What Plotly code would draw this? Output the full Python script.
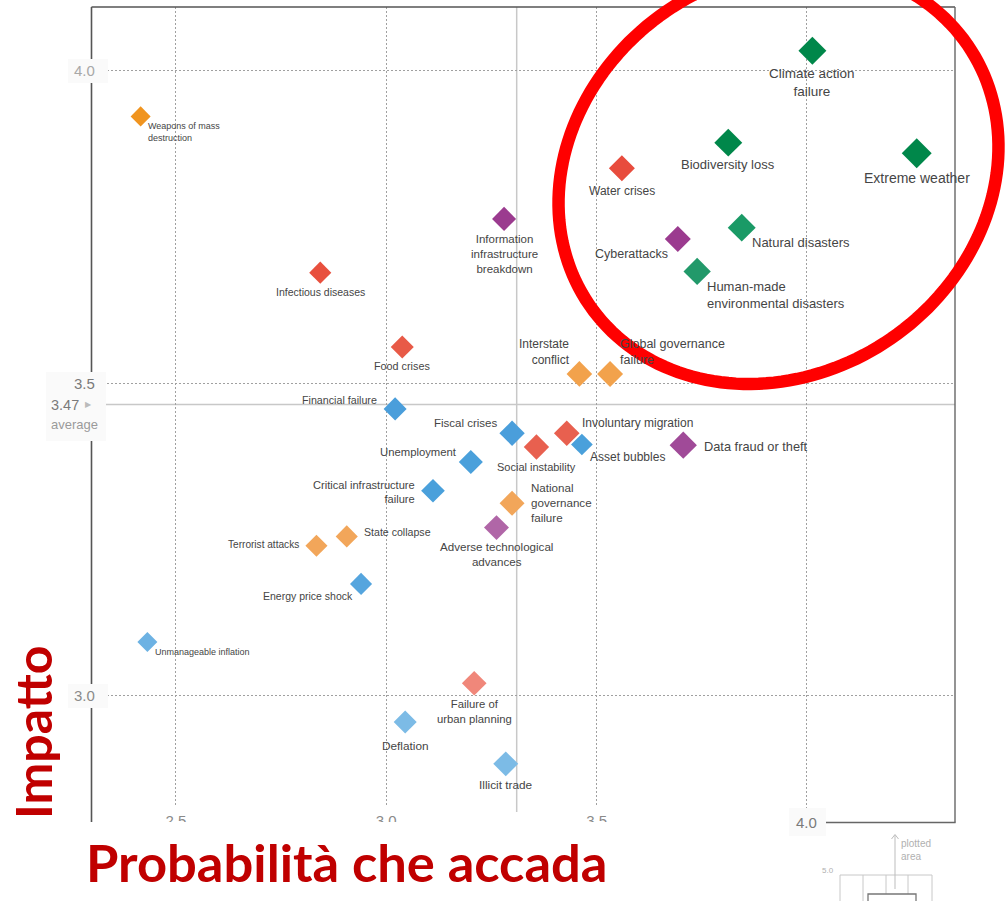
import numpy as np
import plotly.graph_objects as go

# ---------------- data ----------------
risks = [
    "Weapons of mass destruction", "Infectious diseases", "Food crises", "Financial failure",
    "Information infrastructure breakdown", "Water crises", "Climate action failure",
    "Biodiversity loss", "Extreme weather", "Cyberattacks", "Natural disasters",
    "Human-made environmental disasters", "Interstate conflict", "Global governance failure",
    "Fiscal crises", "Social instability", "Involuntary migration", "Asset bubbles",
    "Data fraud or theft", "Unemployment", "Critical infrastructure failure",
    "National governance failure", "Adverse technological advances", "State collapse",
    "Terrorist attacks", "Energy price shock", "Unmanageable inflation",
    "Failure of urban planning", "Deflation", "Illicit trade",
]
label_text = [
    "Weapons of mass<br>destruction", "Infectious diseases", "Food crises", "Financial failure",
    "Information<br>infrastructure<br>breakdown", "Water crises", "Climate action<br>failure",
    "Biodiversity loss", "Extreme weather", "Cyberattacks", "Natural disasters",
    "Human-made<br>environmental disasters", "Interstate<br>conflict", "Global governance<br>failure",
    "Fiscal crises", "Social instability", "Involuntary migration", "Asset bubbles",
    "Data fraud or theft", "Unemployment", "Critical infrastructure<br>failure",
    "National<br>governance<br>failure", "Adverse technological<br>advances", "State collapse",
    "Terrorist attacks", "Energy price shock", "Unmanageable inflation",
    "Failure of<br>urban planning", "Deflation", "Illicit trade",
]
likelihood = [2.416, 2.843, 3.038, 3.021, 3.280, 3.560, 4.013, 3.813, 4.261, 3.693,
              3.845, 3.739, 3.459, 3.532, 3.299, 3.357, 3.429, 3.465, 3.706, 3.201,
              3.111, 3.299, 3.262, 2.906, 2.834, 2.940, 2.432, 3.209, 3.045, 3.284]
impact = [3.927, 3.677, 3.558, 3.459, 3.763, 3.844, 4.032, 3.885, 3.868, 3.731,
          3.749, 3.679, 3.515, 3.515, 3.420, 3.398, 3.420, 3.402, 3.401, 3.374,
          3.328, 3.308, 3.269, 3.255, 3.240, 3.179, 3.086, 3.020, 2.958, 2.891]
category = ["Geopolitical", "Societal", "Societal", "Economic", "Technological",
            "Societal", "Environmental", "Environmental", "Environmental", "Technological",
            "Environmental", "Environmental", "Geopolitical", "Geopolitical", "Economic",
            "Societal", "Societal", "Economic", "Technological", "Economic",
            "Economic", "Geopolitical", "Technological", "Geopolitical", "Geopolitical",
            "Economic", "Economic", "Societal", "Economic", "Economic"]
x_ticks = [2.5, 3.0, 3.5, 4.0]
y_ticks = [3.0, 3.5, 4.0]
avg_likelihood = 3.31
avg_impact = 3.466
x_range = [2.298, 4.352]
y_range = [2.798, 4.102]

# ---------------- styles ----------------
W, H = 1006, 901
ML, MR, MT, MB = 91, 51, 7, 79
PW, PH = W - ML - MR, H - MT - MB
FONT = "Liberation Sans, Arial, sans-serif"
LABEL_COLOR = "#454545"


def pxx(p):
    return (p - ML) / PW


def pxy(p):
    return 1 - (p - MT) / PH


marker_colors = [
    "#f0941f", "#e8503e", "#e85a47", "#4a9edb", "#9b3b8f", "#e84c3d", "#00874a",
    "#00874a", "#00874a", "#9b3b8f", "#1a9a66", "#22996a", "#f2a24c", "#f2a24c",
    "#4a9edb", "#e8604f", "#e8604f", "#4aa0db", "#a04a98", "#4aa0db",
    "#4aa0db", "#f2a65a", "#b066a7", "#f2a65a", "#f2a65a", "#55a5de", "#6db2e3",
    "#f0877a", "#7cbbe6", "#7cbbe6",
]
marker_sizes = [15.4, 17, 17.7, 17.7, 18.5, 20, 21.5, 21.5, 23, 20, 21.5, 21, 19.7, 20,
                19.5, 19.5, 19.7, 16.7, 21, 18.5, 18.2, 19.2, 19.2, 17, 17, 17, 15.4,
                19, 17.7, 19.2]
# (horizontal anchor, x offset px, y offset of text centre px (down +), font size)
label_style = [
    ("left", 7.3, 15.3, 9), ("center", 0, 19.3, 10.5), ("center", 0, 18.7, 10.8),
    ("right", -18, -9, 10.7), ("center", 0, 34.7, 11.5), ("center", 0, 22.4, 12),
    ("center", 0, 31.9, 13.5), ("center", 0, 22.3, 13), ("center", 0, 24.3, 14),
    ("right", -9.7, 14.7, 12.5), ("left", 10.6, 15.3, 13), ("left", 10, 23.3, 13),
    ("right", -9.3, -22.3, 12), ("left", 10, -22.3, 12.5), ("right", -14, -10.6, 11.5),
    ("center", 0, 20, 11), ("left", 15, -10.6, 12), ("left", 8, 12, 12),
    ("left", 21, 1.4, 12.8), ("right", -13.7, -10.3, 11.3), ("right", -18.3, 1.5, 11.1),
    ("left", 18.7, -0.8, 11.6), ("center", 0, 26.6, 11.6), ("left", 17.7, -4, 10.6),
    ("right", -17, -1, 10.1), ("right", -8.3, 12.3, 10.5), ("left", 7.7, 10.3, 9),
    ("center", 0, 28.2, 11.3), ("center", 0, 24.3, 11.8), ("center", 0, 21, 11.8),
]

fig = go.Figure()

fig.add_trace(go.Scatter(
    x=likelihood, y=impact, mode="markers",
    marker=dict(symbol="diamond", size=marker_sizes, color=marker_colors,
                opacity=1, line=dict(width=0)),
    text=risks, customdata=category,
    hovertemplate="%{text}<br>%{customdata}<br>Likelihood %{x}<br>Impact %{y}<extra></extra>",
    showlegend=False,
))

# cut-off x tick labels (clipped by plot area like in the reference)
fig.add_trace(go.Scatter(
    x=x_ticks[:3], y=[y_range[0]] * 3, mode="text",
    text=[f"{v:.1f}" for v in x_ticks[:3]], textposition="middle center",
    textfont=dict(family=FONT, size=15, color="#8a8a8a"),
    cliponaxis=True, hoverinfo="skip", showlegend=False,
))

shapes = []
# average lines
shapes.append(dict(type="line", xref="x", yref="paper", x0=avg_likelihood, x1=avg_likelihood,
                   y0=pxy(812), y1=1, line=dict(color="#c8c8c8", width=1.5), layer="below"))
shapes.append(dict(type="line", xref="paper", yref="y", x0=0, x1=1, y0=avg_impact, y1=avg_impact,
                   line=dict(color="#c8c8c8", width=1.5), layer="below"))
# boxes hiding gridline ends at cut x ticks
for v in x_ticks[:3]:
    shapes.append(dict(type="rect", xref="x", yref="y", x0=v - 0.04, x1=v + 0.04,
                       y0=y_range[0], y1=y_range[0] + 17 / 624.7,
                       fillcolor="white", line=dict(width=0), layer="between"))
# frame
frame_col = "#555555"
shapes.append(dict(type="line", xref="paper", yref="paper", x0=pxx(91.5), x1=pxx(91.5),
                   y0=pxy(822), y1=pxy(7), line=dict(color=frame_col, width=1.6), layer="above"))
shapes.append(dict(type="line", xref="paper", yref="paper", x0=pxx(91.5), x1=pxx(955),
                   y0=pxy(7), y1=pxy(7), line=dict(color=frame_col, width=1.4), layer="above"))
shapes.append(dict(type="line", xref="paper", yref="paper", x0=pxx(955), x1=pxx(955),
                   y0=pxy(7), y1=pxy(822.5), line=dict(color="#666666", width=1.4), layer="above"))
shapes.append(dict(type="line", xref="paper", yref="paper", x0=pxx(826), x1=pxx(955.6),
                   y0=pxy(822.5), y1=pxy(822.5), line=dict(color="#666666", width=1.4), layer="above"))
# tick label boxes
box_fill = "#fafafa"
for (x0, x1, y0, y1) in [(68, 108, 59, 83), (46, 106, 372, 441), (68, 108, 684, 708), (789, 826, 808, 836)]:
    shapes.append(dict(type="rect", xref="paper", yref="paper", x0=pxx(x0), x1=pxx(x1),
                       y0=pxy(y1), y1=pxy(y0), fillcolor=box_fill, line=dict(width=0), layer="above"))

# red ellipse (hand-drawn highlight)
cx, cy, A, B, phi = 778.5, 175.0, 229.5, 198.5, np.radians(-34.6)
t = np.linspace(0, 2 * np.pi, 181)
ex = cx + A * np.cos(t) * np.cos(phi) - B * np.sin(t) * np.sin(phi)
ey = cy + A * np.cos(t) * np.sin(phi) + B * np.sin(t) * np.cos(phi)
path = "M " + " L ".join(f"{pxx(a):.5f},{pxy(b):.5f}" for a, b in zip(ex, ey)) + " Z"
shapes.append(dict(type="path", xref="paper", yref="paper", path=path,
                   line=dict(color="#ff0000", width=12.5), layer="above"))

# inset "plotted area" sketch
inset_col = "#c8c8c8"
shapes.append(dict(type="rect", xref="paper", yref="paper", x0=pxx(840), x1=pxx(932),
                   y0=pxy(910), y1=pxy(875), line=dict(color=inset_col, width=1), layer="above"))
for xv, y_top in [(863, 875), (886, 875), (908, 875)]:
    shapes.append(dict(type="line", xref="paper", yref="paper", x0=pxx(xv), x1=pxx(xv),
                       y0=pxy(910), y1=pxy(y_top), line=dict(color=inset_col, width=1), layer="above"))
shapes.append(dict(type="rect", xref="paper", yref="paper", x0=pxx(868), x1=pxx(916),
                   y0=pxy(910), y1=pxy(894), fillcolor="white",
                   line=dict(color="#777777", width=1.3), layer="above"))
shapes.append(dict(type="line", xref="paper", yref="paper", x0=pxx(895), x1=pxx(895),
                   y0=pxy(889), y1=pxy(835), line=dict(color="#bdbdbd", width=1), layer="above"))
shapes.append(dict(type="path", xref="paper", yref="paper",
                   path=f"M {pxx(891.5)},{pxy(839)} L {pxx(895)},{pxy(834.5)} L {pxx(898.5)},{pxy(839)}",
                   line=dict(color="#bdbdbd", width=1), layer="above"))

annotations = []
# data labels
for lab, xv, yv, (ha, dx, dy, fs) in zip(label_text, likelihood, impact, label_style):
    annotations.append(dict(x=xv, y=yv, xref="x", yref="y", text=lab, showarrow=False,
                            xanchor=ha, yanchor="middle", xshift=dx, yshift=-dy, align=ha,
                            borderpad=0, borderwidth=0,
                            font=dict(family=FONT, size=fs, color=LABEL_COLOR)))

# y tick labels
ytick_colors = {3.0: "#8a8a8a", 3.5: "#7a7a7a", 4.0: "#a8a8a8"}
for v in y_ticks:
    annotations.append(dict(x=pxx(84), y=v, xref="paper", yref="y", text=f"{v:.1f}",
                            showarrow=False, xanchor="center", yanchor="middle",
                            font=dict(family=FONT, size=15, color=ytick_colors[v])))
annotations.append(dict(x=pxx(49), y=avg_impact, xref="paper", yref="y", text=f"{avg_impact:.2f}",
                        showarrow=False, xanchor="left", yanchor="middle",
                        font=dict(family=FONT, size=14.5, color="#7a7a7a")))
annotations.append(dict(x=pxx(88), y=avg_impact, xref="paper", yref="y", text="▶",
                        showarrow=False, xanchor="center", yanchor="middle",
                        font=dict(family="DejaVu Sans", size=8, color="#bbbbbb")))
annotations.append(dict(x=pxx(49), y=pxy(424), xref="paper", yref="paper", text="average",
                        showarrow=False, xanchor="left", yanchor="middle",
                        font=dict(family=FONT, size=13, color="#9a9a9a")))
# x tick label 4.0
annotations.append(dict(x=x_ticks[3], y=pxy(822), xref="x", yref="paper", text=f"{x_ticks[3]:.1f}",
                        showarrow=False, xanchor="center", yanchor="middle",
                        font=dict(family=FONT, size=15, color="#7a7a7a")))
# inset texts
annotations.append(dict(x=pxx(899), y=pxy(850), xref="paper", yref="paper", text="plotted<br>area",
                        showarrow=False, xanchor="left", yanchor="middle", align="left",
                        font=dict(family=FONT, size=10, color="#b0b0b0")))
annotations.append(dict(x=pxx(828), y=pxy(870), xref="paper", yref="paper", text="5.0",
                        showarrow=False, xanchor="center", yanchor="middle",
                        font=dict(family=FONT, size=8, color="#b0b0b0")))
# slide axis titles
annotations.append(dict(x=pxx(347), y=pxy(861), xref="paper", yref="paper",
                        text="<b>Probabilità che accada</b>", showarrow=False,
                        xanchor="center", yanchor="middle",
                        font=dict(family="Lato, Open Sans, sans-serif", size=52.5, color="#c00000")))
annotations.append(dict(x=pxx(33), y=pxy(732), xref="paper", yref="paper",
                        text="<b>Impatto</b>", showarrow=False, textangle=-90,
                        xanchor="center", yanchor="middle",
                        font=dict(family="Lato, Open Sans, sans-serif", size=50, color="#c00000")))

fig.update_layout(
    width=W, height=H,
    margin=dict(l=ML, r=MR, t=MT, b=MB, pad=0),
    paper_bgcolor="white", plot_bgcolor="white",
    xaxis=dict(range=x_range, tickvals=x_ticks, showticklabels=False, showgrid=True,
               gridcolor="#a0a0a0", griddash="2px,2px", gridwidth=1, zeroline=False,
               showline=False, ticks=""),
    yaxis=dict(range=y_range, tickvals=y_ticks, showticklabels=False, showgrid=True,
               gridcolor="#a0a0a0", griddash="2px,2px", gridwidth=1, zeroline=False,
               showline=False, ticks=""),
    shapes=shapes, annotations=annotations,
    showlegend=False,
)

fig.write_html("out.html", config={"displayModeBar": False},
               post_script="document.body.style.margin='0px';")
